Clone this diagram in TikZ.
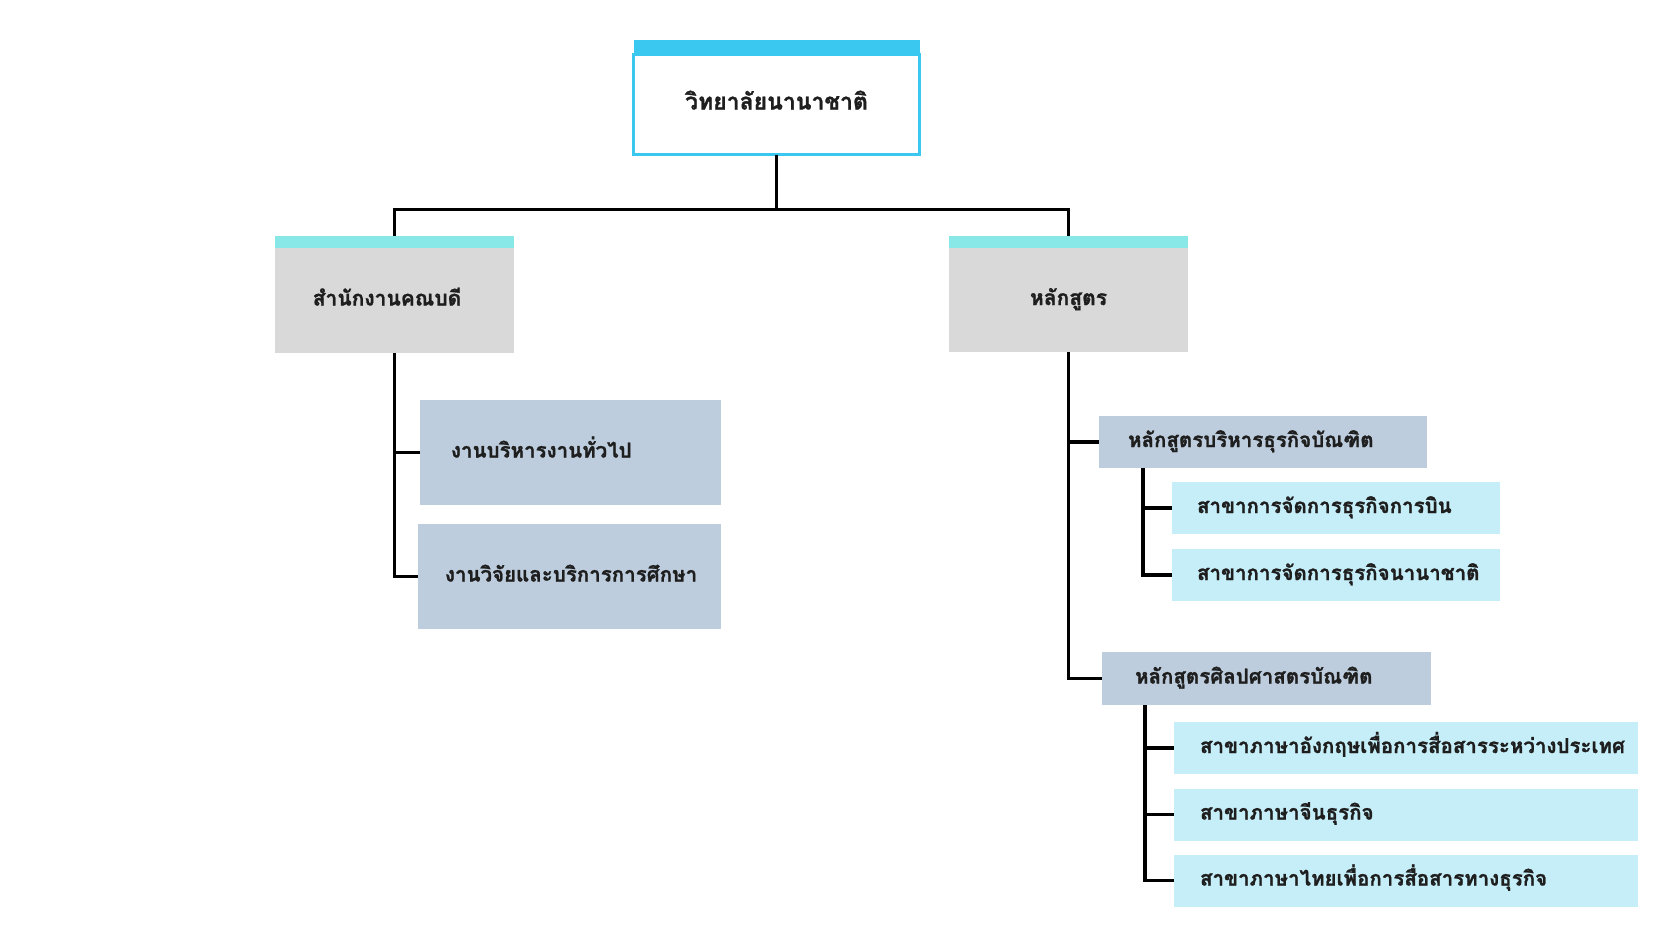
\documentclass[tikz,border=0pt]{standalone}
\usepackage{fontspec}
\newfontfamily\thaifont[Script=Thai,BoldFeatures={FakeBold=1.2}]{Loma}
\definecolor{topcyan}{RGB}{58,200,240}
\definecolor{barcyan}{RGB}{136,232,232}
\definecolor{boxgray}{RGB}{217,217,217}
\definecolor{bluegray}{RGB}{189,205,221}
\definecolor{lightcyan}{RGB}{198,238,248}
\definecolor{txt}{RGB}{30,30,30}
\begin{document}
\begin{tikzpicture}[x=1pt,y=-1pt,
  conn/.style={line width=3.4pt,black},
  base/.style={inner sep=0pt,outer sep=0pt,text=txt,text height=14pt,text depth=4pt,font=\thaifont\bfseries\fontsize{21}{25}\selectfont},
  topbox/.style={base,draw=topcyan,line width=3pt,fill=white,minimum width=286pt,minimum height=100pt,text height=15pt,text depth=5pt,font=\thaifont\bfseries\fontsize{23}{27}\selectfont},
  midbox/.style={base,fill=boxgray,minimum width=239pt,minimum height=104pt},
  leafbox/.style n args={4}{base,fill=#1,minimum height=#3,text width=#2-2*#4,inner xsep=#4,align=left,font=\thaifont\bfseries\fontsize{20.5}{24}\selectfont},
]
\fill[white] (0,0) rectangle (1680,945);
\useasboundingbox (0,0) rectangle (1680,945);

% nodes
\node[topbox] (top) at (776.5,104.5) {วิทยาลัยนานาชาติ};
\node[midbox,minimum height=105pt] (dean) at (394.5,300.5) {\hspace*{-15pt}สำนักงานคณบดี};
\node[midbox] (curr) at (1068.5,300) {หลักสูตร};

\node[leafbox={bluegray}{301pt}{105pt}{31pt}] (a) at (570.5,452.5) {งานบริหารงานทั่วไป};
\node[leafbox={bluegray}{303pt}{105pt}{27pt}] (b) at (569.5,576.5) {งานวิจัยและบริการการศึกษา};

\node[leafbox={bluegray}{328pt}{52pt}{29pt}] (c) at (1263,442) {หลักสูตรบริหารธุรกิจบัณฑิต};
\node[leafbox={lightcyan}{328pt}{52pt}{25pt}] (d) at (1336,508) {สาขาการจัดการธุรกิจการบิน};
\node[leafbox={lightcyan}{328pt}{52pt}{25pt}] (e) at (1336,575) {สาขาการจัดการธุรกิจนานาชาติ};

\node[leafbox={bluegray}{329pt}{53pt}{33pt}] (f) at (1266.5,678.5) {หลักสูตรศิลปศาสตรบัณฑิต};
\node[leafbox={lightcyan}{464pt}{52pt}{26pt}] (g) at (1406,748) {สาขาภาษาอังกฤษเพื่อการสื่อสารระหว่างประเทศ};
\node[leafbox={lightcyan}{464pt}{52pt}{26pt}] (h) at (1406,814.5) {สาขาภาษาจีนธุรกิจ};
\node[leafbox={lightcyan}{464pt}{52pt}{26pt}] (i) at (1406,880.5) {สาขาภาษาไทยเพื่อการสื่อสารทางธุรกิจ};

% connectors
\draw[conn] (top.south) -- ++(0,55) coordinate (split) -| (dean.north);
\draw[conn] (split) -| (curr.north);
\draw[conn] (dean.south) |- (a.west);
\draw[conn] (dean.south) |- (b.west);
\draw[conn] (curr.south) |- (c.west);
\draw[conn] (curr.south) |- (f.west);
\draw[conn] ([xshift=44pt]c.south west) |- (d.west);
\draw[conn] ([xshift=44pt]c.south west) |- (e.west);
\draw[conn] ([xshift=43pt]f.south west) |- (g.west);
\draw[conn] ([xshift=43pt]f.south west) |- (h.west);
\draw[conn] ([xshift=43pt]f.south west) |- (i.west);

% header bars
\fill[topcyan] (top.north west) rectangle ([yshift=15pt]top.north east);
\fill[barcyan] (dean.north west) rectangle ([yshift=12pt]dean.north east);
\fill[barcyan] (curr.north west) rectangle ([yshift=12pt]curr.north east);
\end{tikzpicture}
\end{document}
